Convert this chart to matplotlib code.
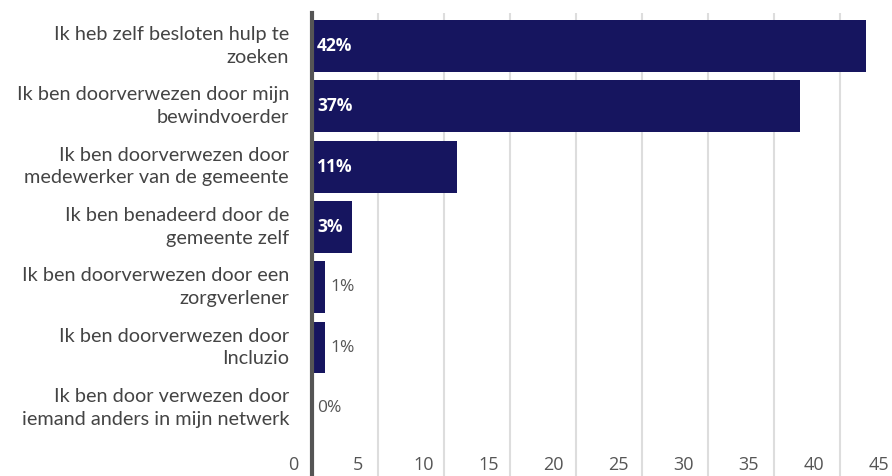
import matplotlib
matplotlib.use("Agg")
import matplotlib.pyplot as plt
import matplotlib.transforms as mtransforms

categories = [
    "Ik heb zelf besloten hulp te\nzoeken",
    "Ik ben doorverwezen door mijn\nbewindvoerder",
    "Ik ben doorverwezen door\nmedewerker van de gemeente",
    "Ik ben benadeerd door de\ngemeente zelf",
    "Ik ben doorverwezen door een\nzorgverlener",
    "Ik ben doorverwezen door\nIncluzio",
    "Ik ben door verwezen door\niemand anders in mijn netwerk",
]
values = [42, 37, 11, 3, 1, 1, 0]
value_labels = ["42%", "37%", "11%", "3%", "1%", "1%", "0%"]
xticks = [0, 5, 10, 15, 20, 25, 30, 35, 40, 45]

W, H = 892, 476
fig = plt.figure(figsize=(W / 100, H / 100), dpi=100)
x0 = 312
ppu = 13.2
top_px = 13
ax = fig.add_axes([x0 / W, 0, (45.3 * ppu) / W, (H - top_px) / H])

bar_color = "#16155f"
ys = list(range(len(values)))
ax.barh(ys, values, height=0.86, color=bar_color, zorder=3)
ax.set_xlim(0, 45.3)
ax.set_ylim(7.13, -0.547)

for y, v, lab in zip(ys, values, value_labels):
    if v >= 3:
        ax.annotate(lab, (0, y), xytext=(5, 0), textcoords="offset pixels",
                    ha="left", va="center", color="white", fontweight="bold",
                    fontsize=12.5, family="Open Sans", zorder=4)
    else:
        ax.annotate(lab, (v, y), xytext=(5, 0), textcoords="offset pixels",
                    ha="left", va="center", color="#555555",
                    fontsize=12.5, family="Open Sans", zorder=4)

for y, c in zip(ys, categories):
    ax.annotate(c, (0, y), xytext=(-23, 0), textcoords="offset pixels",
                ha="right", va="center", color="#444444", fontsize=14.3,
                family="Lato", linespacing=1.4, annotation_clip=False)

ax.set_xticks(xticks)
ax.set_yticks([])
ax.tick_params(axis="x", length=0, pad=-14.5, labelsize=13, labelcolor="#555555")
for t, v in zip(ax.get_xticklabels(), xticks):
    t.set_family("Open Sans")
    shift = -(19 + 8 * v / 45) / 100
    t.set_transform(t.get_transform() + mtransforms.ScaledTranslation(shift, 0, fig.dpi_scale_trans))
ax.grid(axis="x", color="#dddddd", linewidth=1.5, zorder=0)
for s in ["top", "right", "bottom"]:
    ax.spines[s].set_visible(False)
ax.spines["left"].set_color("#555555")
ax.spines["left"].set_linewidth(3)
ax.spines["left"].set_zorder(5)

fig.savefig("out.png", dpi=100)
